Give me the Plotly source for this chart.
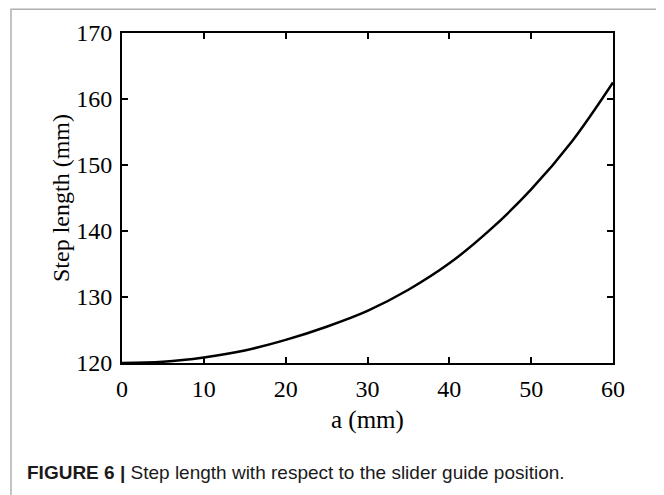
import plotly.graph_objects as go

# Data
a_mm = [0, 5, 10, 15, 20, 25, 30, 35, 40, 45, 50, 55, 60]
step_length = [120.0, 120.2, 120.85, 121.9, 123.5, 125.5, 127.9, 131.1, 135.1, 140.2, 146.3, 153.6, 162.5]
x_ticks = [0, 10, 20, 30, 40, 50, 60]
y_ticks = [120, 130, 140, 150, 160, 170]

# The page body has an 8px margin; work in screenshot pixel coordinates.
OFF = 8
W, H = 664 - OFF, 495 - OFF
L, R, T, B = 122, 613, 31, 363

def px(x):
    return (x - L) / (R - L)

def py(y):
    return (B - y) / (B - T)

serif = "Liberation Serif, Times New Roman, serif"
sans = "Liberation Sans, Arial, Helvetica, sans-serif"

fig = go.Figure()
fig.add_trace(go.Scatter(
    x=a_mm, y=step_length, mode="lines",
    line=dict(color="black", width=2.5, shape="spline", smoothing=1.0),
    showlegend=False, hoverinfo="skip",
))

axis_common = dict(
    showline=True, linecolor="black", linewidth=2, mirror="ticks",
    ticks="inside", ticklen=6, tickwidth=2, tickcolor="black",
    showgrid=False, zeroline=False,
    tickfont=dict(family=serif, size=24, color="black"),
)

fig.update_xaxes(range=[0, 60], tickvals=x_ticks, ticktext=[str(v) for v in x_ticks],
                 ticklabelstandoff=3, **axis_common)
fig.update_yaxes(range=[120, 170], tickvals=y_ticks, ticktext=[str(v) for v in y_ticks],
                 ticklabelstandoff=3, **axis_common)

annotations = [
    dict(text="a (mm)", x=0.5, y=py(420), xref="paper", yref="paper",
         showarrow=False, xanchor="center", yanchor="middle",
         font=dict(family=serif, size=25, color="black")),
    dict(text="Step length (mm)", x=px(61), y=0.5, xref="paper", yref="paper",
         showarrow=False, xanchor="center", yanchor="middle", textangle=-90,
         font=dict(family=serif, size=24, color="black")),
    dict(text="<b>FIGURE 6 |</b> Step length with respect to the slider guide position.",
         x=px(25), y=py(473), xref="paper", yref="paper",
         showarrow=False, xanchor="left", yanchor="middle",
         font=dict(family=sans, size=19, color="#1a1a1a")),
]

shapes = [
    dict(type="rect", xref="paper", yref="paper",
         x0=px(11), x1=px(661), y0=py(7), y1=py(520),
         line=dict(color="#b0b0b0", width=1.5), fillcolor="rgba(0,0,0,0)", layer="below"),
]

fig.update_layout(
    width=W, height=H,
    margin=dict(l=L - OFF, r=664 - R, t=T - OFF, b=495 - B),
    paper_bgcolor="white", plot_bgcolor="white",
    annotations=annotations, shapes=shapes,
)

fig.write_html("out.html")
